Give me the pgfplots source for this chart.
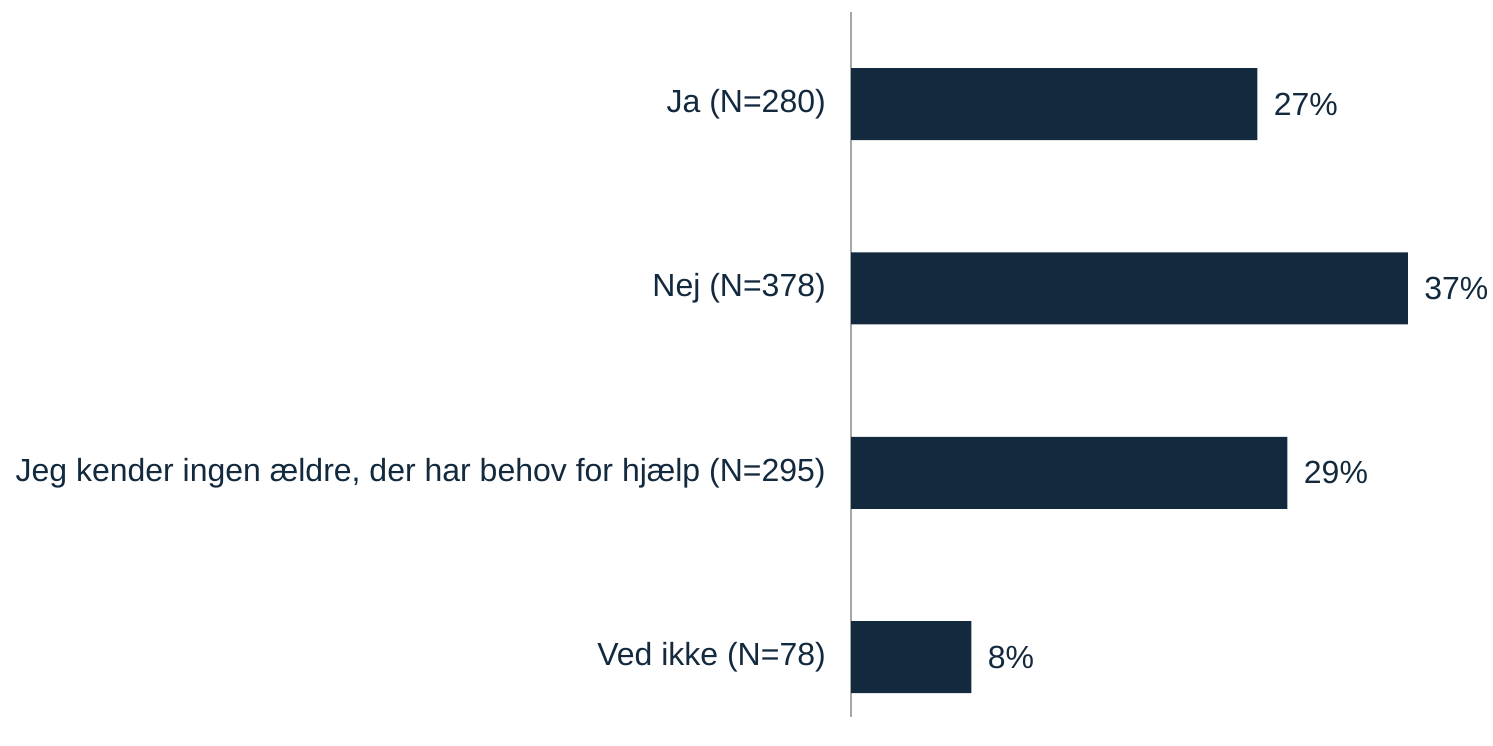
\documentclass[border=0pt]{standalone}
\usepackage{pgfplots}
\pgfplotsset{compat=1.18}
\usepackage{fontspec}
\setmainfont{Liberation Sans}
\definecolor{navy}{HTML}{13293D}
\definecolor{axisgray}{HTML}{A6A6A6}
\begin{document}
\begin{tikzpicture}
% picture frame: 1493 x 745 px at 0.4pt per px
\useasboundingbox (0pt,0pt) rectangle (597.2pt,298pt);
\begin{axis}[
    at={(340.4pt,11.2pt)}, anchor=south west,
    scale only axis,
    width=240.8pt, height=282pt,
    xbar, bar width=28.8pt,
    xmin=0, xmax=40,
    ymin=-0.325, ymax=3.5,
    hide x axis,
    axis y line*=left,
    y axis line style={axisgray, line width=0.8pt, -},
    ytick={0,1,2,3},
    yticklabels={Ved ikke (N=78),
                 {Jeg kender ingen ældre, der har behov for hjælp (N=295)},
                 Nej (N=378),
                 Ja (N=280)},
    tick style={draw=none},
    yticklabel style={font=\fontsize{12.8}{15}\selectfont, text=navy,
                      anchor=east, inner sep=0pt, xshift=-5.6pt},
    nodes near coords={\pgfmathprintnumber{\pgfplotspointmeta}\%},
    nodes near coords style={font=\fontsize{12.8}{15}\selectfont, text=navy,
                             anchor=west, inner sep=0pt, xshift=6.4pt},
    /pgf/number format/assume math mode=true,
    clip=false,
]
\addplot[fill=navy, draw=none] coordinates {
  (27,3)
  (37,2)
  (29,1)
  (8,0)
};
\end{axis}
\end{tikzpicture}
\end{document}
